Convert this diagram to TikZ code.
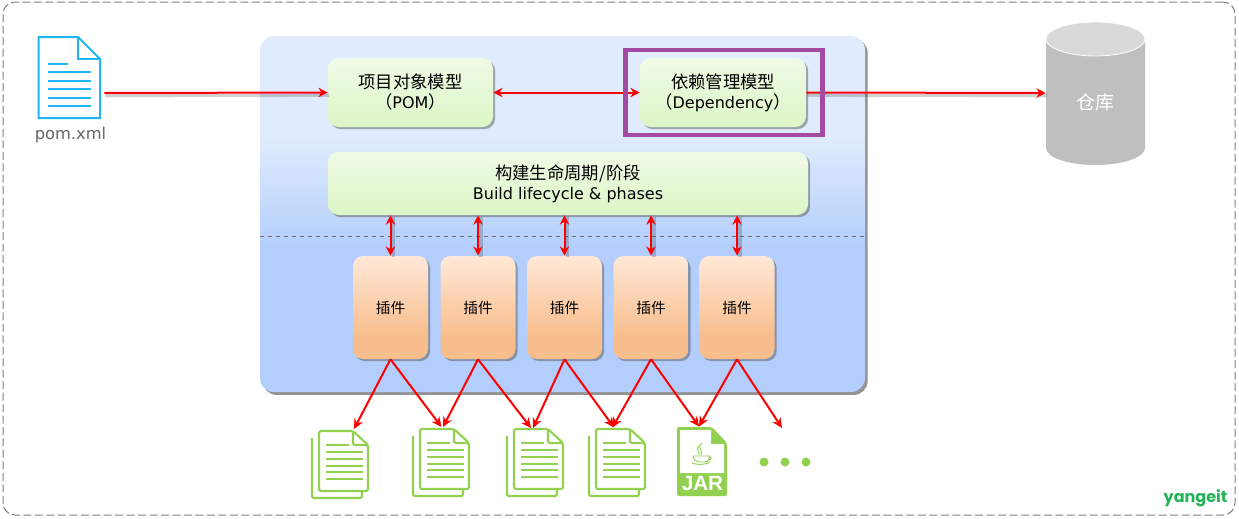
\documentclass[tikz,border=0pt]{standalone}
\usepackage{fontspec}
\setmainfont{DejaVu Sans}
\newfontfamily\cjk{Noto Sans CJK SC}
\newfontfamily\logofont{Poppins}
\newfontfamily\jarfont{Liberation Sans}
\usetikzlibrary{arrows.meta,shadows}
\definecolor{panelT}{HTML}{E0ECFD}
\definecolor{panelB}{HTML}{B3CEFC}
\definecolor{greenT}{HTML}{F0FAE6}
\definecolor{greenB}{HTML}{DCF6C6}
\definecolor{orangeT}{HTML}{FFE9D9}
\definecolor{orangeB}{HTML}{F8BD8C}
\definecolor{iconblue}{HTML}{1FB6F6}
\definecolor{icongreen}{HTML}{92D050}
\definecolor{purplebox}{HTML}{A34BA3}
\definecolor{logogreen}{HTML}{22B455}
\pgfdeclareverticalshading{panelshade}{100bp}{color(0bp)=(panelB);color(45bp)=(panelB);color(61bp)=(panelT);color(100bp)=(panelT)}
\pgfdeclareverticalshading{greenshade}{100bp}{color(0bp)=(greenB);color(25bp)=(greenB);color(75bp)=(greenT);color(100bp)=(greenT)}
\pgfdeclareverticalshading{orangeshade}{100bp}{color(0bp)=(orangeB);color(36bp)=(orangeB);color(75bp)=(orangeT);color(100bp)=(orangeT)}
\def\px{0.75pt}
\newcommand\zh[1]{{\fontsize{13}{15}\cjk #1}}
\tikzset{
  softshadow/.style={drop shadow={shadow xshift=1.6pt,shadow yshift=-1.6pt,opacity=.45,fill=black!70}},
  panelbox/.style={rounded corners=10.5pt,shading=panelshade,drop shadow={shadow xshift=2pt,shadow yshift=-2.2pt,opacity=.6,fill=black!70},inner sep=0pt},
  greenbox/.style={rounded corners=8pt,shading=greenshade,softshadow,inner sep=0pt,align=center,font=\fontsize{12}{15}\selectfont},
  pluginbox/.style={rounded corners=7.5pt,shading=orangeshade,softshadow,inner sep=0pt,minimum width=75*\px,minimum height=103*\px,font=\fontsize{11}{14}\cjk},
  flow/.style={draw=red,line width=1.5pt,-{Stealth[length=7pt,width=7pt]}},
  flowboth/.style={draw=red,line width=1.5pt,{Stealth[length=7pt,width=7pt]}-{Stealth[length=7pt,width=7pt]}},
  hshadow/.style={draw=black,draw opacity=.18,line width=2.6pt,transform canvas={xshift=.8pt,yshift=-2pt}},
  vshadow/.style={draw=black,draw opacity=.18,line width=2.6pt,transform canvas={xshift=2.2pt,yshift=-1pt}},
  fan/.style={draw=red,line width=1.5pt,-{Stealth[length=7.5pt,width=7pt]}},
  docline/.style={draw=icongreen,line width=1.6pt},
  docicon/.pic={
    \draw[docline,rounded corners=1.5pt,fill=white] (-7,7) -- (-7,67) -- (43,67) -- (43,60);
    \draw[docline,rounded corners=1.5pt,fill=white,line join=round] (0,0) -- (34,0) -- (49,14) -- (49,60) -- (0,60) -- cycle;
    \draw[docline,rounded corners=1.5pt] (34,0) -- (34,14) -- (49,14);
    \draw[docline] (7,14) -- (30,14);
    \foreach \yy in {21,28,35,41,48}{\draw[docline] (7,\yy) -- (44,\yy);}
  },
}
\begin{document}
\begin{tikzpicture}[x=0.75pt,y=-0.75pt]
\useasboundingbox (0,0) rectangle (1239,518);
\fill[white] (0,0) rectangle (1239,518);
% outer frame
\node[draw=black!50,dash pattern=on 6pt off 2.6pt,line width=.75pt,rounded corners=9pt,minimum width=1232*\px,minimum height=513*\px,inner sep=0pt] (frame) at (619,258.5) {};
% main panel
\node[panelbox,minimum width=605*\px,minimum height=356*\px] (panel) at (562.5,214) {};
\coordinate (dashL) at (260,236);
\coordinate (dashR) at (865,236);
\draw[black!55,dashed,line width=.6pt] (dashL) -- (dashR);
% POM file icon
\node[minimum width=65*\px,minimum height=114*\px,inner sep=0pt] (pomfile) at (71.5,93) {};
\draw[iconblue,line width=1.5pt,miter limit=2] (38.5,37) -- (78,37) -- (100,59) -- (100,118) -- (38.5,118) -- cycle;
\draw[iconblue,line width=1.5pt] (78,37) -- (78,59) -- (100,59);
\draw[iconblue,line width=1.4pt] (48,64) -- (68,64);
\foreach \yy in {72,81,89,98,106}{\draw[iconblue,line width=1.4pt] (48,\yy) -- (91,\yy);}
\node[text=black!60,font=\fontsize{12.2}{14}\selectfont,inner sep=0pt] (pomlabel) at (70.5,135) {pom.xml};
% storage cylinder
\node[minimum width=99*\px,minimum height=143*\px,inner sep=0pt] (store) at (1095.5,93) {};
\fill[black!25] (1046,39) -- (1046,148) arc[x radius=49.5,y radius=17,start angle=180,end angle=0] -- (1145,39) -- cycle;
\fill[black!15,draw=white,line width=.6pt] (1095.5,39) ellipse[x radius=49.5,y radius=17];
\node[text=white,font=\fontsize{14.2}{16}\cjk,inner sep=0pt] (storelabel) at (1095.5,102.5) {仓库};
% model boxes
\node[greenbox,minimum width=165*\px,minimum height=69*\px] (pom) at (410.5,92.5) {\zh{项目对象模型}\\\zh{（}POM\zh{）}};
\node[greenbox,minimum width=166*\px,minimum height=69*\px] (dep) at (723,92.5) {\zh{依赖管理模型}\\\zh{（}Dependency\zh{）}};
\node[greenbox,minimum width=480*\px,minimum height=63*\px] (build) at (568,183.5) {\zh{构建生命周期/阶段}\\Build lifecycle \& phases};
% plugins
\node[pluginbox] (p1) at (390.5,307.5) {插件};
\node[pluginbox] (p2) at (478,307.5) {插件};
\node[pluginbox] (p3) at (564.5,307.5) {插件};
\node[pluginbox] (p4) at (651,307.5) {插件};
\node[pluginbox] (p5) at (737,307.5) {插件};
% top connectors
\draw[hshadow] (pomfile.east) -- (pom.west);
\draw[hshadow] (dep.east) -- (store.west);
\draw[flow] (pomfile.east) -- (pom.west);
\draw[flowboth] (pom.east) -- (dep.west);
\draw[flow] (dep.east) -- (store.west);
\node[draw=purplebox,line width=3.2pt,minimum width=197*\px,minimum height=85*\px,inner sep=0pt] (focus) at (724,92.5) {};
% build <-> plugins
\foreach \n in {p1,p2,p3,p4,p5}{
  \draw[vshadow] (\n.north) -- (\n.north |- build.south);
  \draw[flowboth] (\n.north) -- (\n.north |- build.south);
}
% output icons
\pic at (319,431) {docicon};
\pic at (420,429) {docicon};
\pic at (514,429) {docicon};
\pic at (596,429) {docicon};
\coordinate (d1) at (354,429);
\coordinate (d2a) at (441.5,427);
\coordinate (d2b) at (443,427);
\coordinate (d3a) at (531,428);
\coordinate (d3b) at (533,428);
\coordinate (d4a) at (612.5,427.5);
\coordinate (d4b) at (614,427.5);
\coordinate (jar) at (699,426.5);
\coordinate (more) at (782,428);
% JAR icon
\fill[icongreen,rounded corners=1.5pt] (677,427) -- (712,427) -- (727,443) -- (727,496) -- (677,496) -- cycle;
\fill[white] (680,430) -- (711,430) -- (711,444) -- (724,444) -- (724,473) -- (680,473) -- cycle;
\begin{scope}[icongreen,line width=.7pt]
\draw (702,443) .. controls (696,447) and (704,451) .. (701,455);
\draw (699,446) .. controls (695,449) and (700,452) .. (699,455);
\draw[fill=none] (693,456) -- (710,456) .. controls (709,462) and (706,462) .. (704,462) -- (699,462) .. controls (696,462) and (694,460) .. (693,456);
\draw (709,457) .. controls (712,456) and (712,460) .. (708,460);
\draw (692,463) .. controls (696,465) and (706,465) .. (710,462);
\end{scope}
\node[text=white,font=\fontsize{15.5}{16}\jarfont\bfseries,inner sep=0pt] (jartext) at (702.5,483.5) {JAR};
% ellipsis
\foreach \xx in {764,785,806}{\fill[icongreen] (\xx,462) circle[radius=4.5];}
% fan-out connectors
\draw[fan] (p1.south) -- (d1);
\draw[fan] (p1.south) -- (d2a);
\draw[fan] (p2.south) -- (d2b);
\draw[fan] (p2.south) -- (d3a);
\draw[fan] (p3.south) -- (d3b);
\draw[fan] (p3.south) -- (d4b);
\draw[fan] (p4.south) -- (d4a);
\draw[fan] (p4.south) -- (jar);
\draw[fan] (p5.south) -- (jar);
\draw[fan] (p5.south) -- (more);
% logo
\node[text=logogreen,font=\fontsize{12}{14}\logofont\bfseries,inner sep=0pt] (logo) at (1195.5,498) {yangeit};
\end{tikzpicture}
\end{document}
